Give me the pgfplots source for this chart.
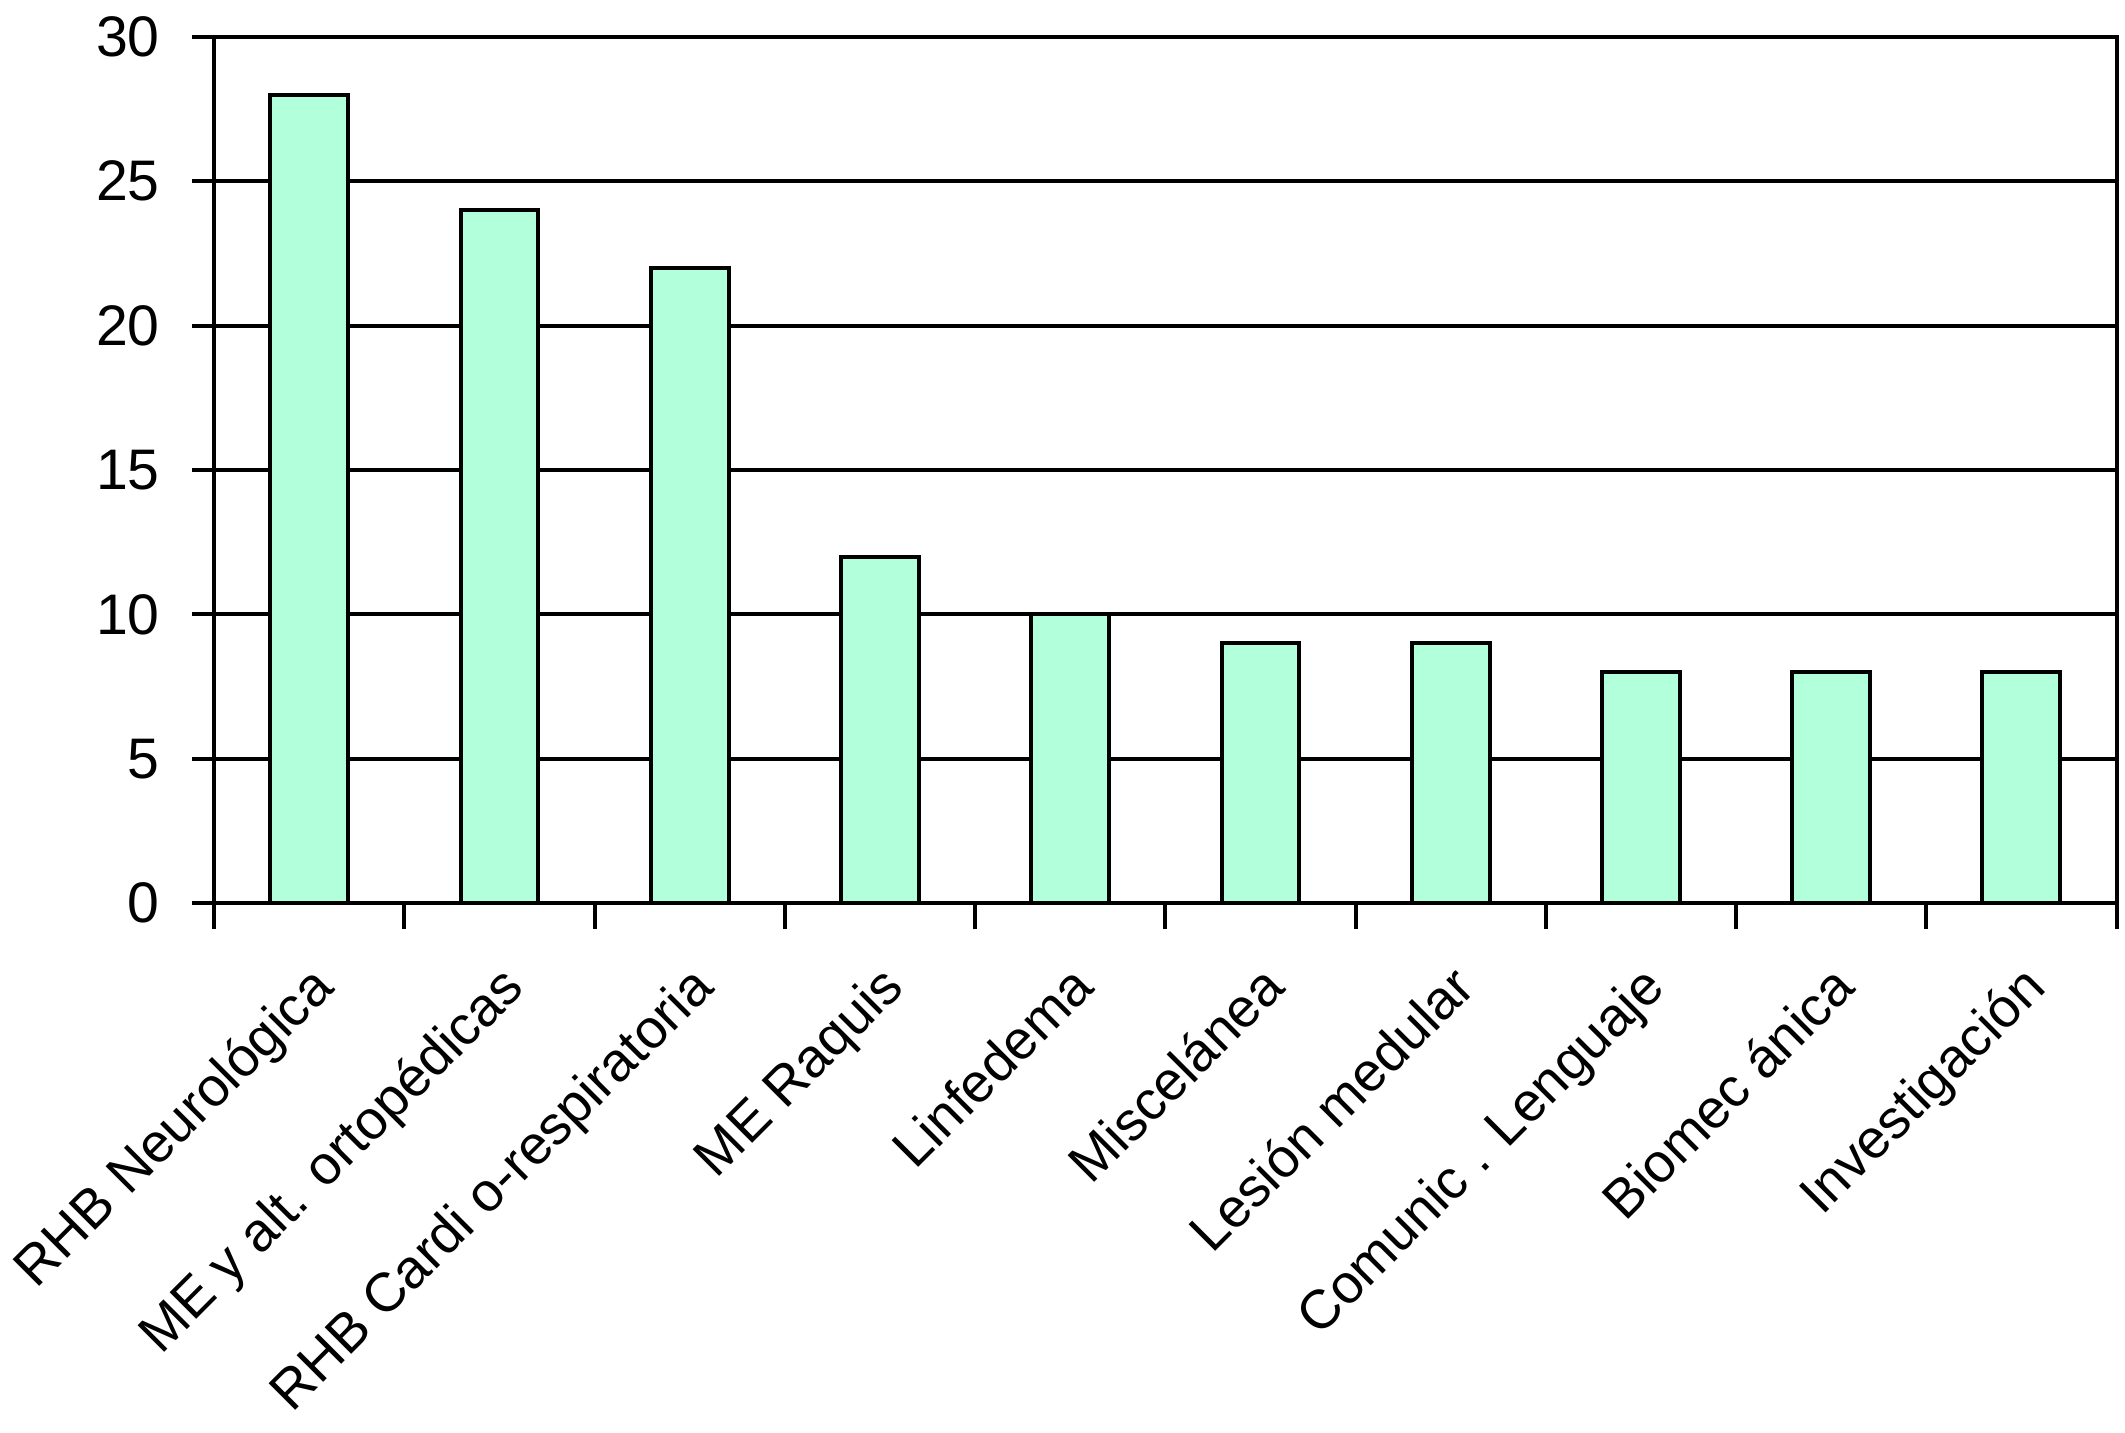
\documentclass[border={-3bp -2.5bp 1.3bp 0pt}]{standalone}
\usepackage{fontspec}
\setmainfont{Liberation Sans}
\usepackage{pgfplots}
\pgfplotsset{compat=1.18}
\definecolor{mint}{RGB}{178,255,220}

\begin{document}
\begin{tikzpicture}
\begin{axis}[
scale only axis,
width=381.2bp, height=173.6bp,
xmin=-0.5, xmax=9.5,
ymin=0, ymax=30,
axis line style={line width=0.8bp},
ybar, bar width=15.6bp,
xtick={0,...,9},
xticklabels={RHB Neurológica,ME y alt. ortopédicas,RHB Cardi o-respiratoria,ME Raquis,Linfedema,Miscelánea,Lesión medular,Comunic . Lenguaje,Biomec ánica,Investigación},
minor xtick={-0.5,0.5,...,9.5},
major x tick style={draw=none},
minor x tick style={black, line width=0.8bp},
minor tick length=5.2bp,
ytick={0,5,...,30},
major tick length=4.4bp,
y tick style={black, line width=0.8bp},
tick align=outside,
xtick pos=bottom, ytick pos=left,
ymajorgrids=true,
grid style={black, line width=0.8bp},
font=\fontsize{11}{13}\selectfont,
yticklabel style={font=\fontsize{11.5}{13}\selectfont, xshift=-3bp},
/pgf/number format/assume math mode=true,
xticklabel style={rotate=45, anchor=north east, xshift=-2bp, yshift=-1.4bp},
]
\addplot[draw=black, line width=0.8bp, fill=mint, bar shift=0pt] coordinates {
(0,28) (1,24) (2,22) (3,12) (4,10) (5,9) (6,9) (7,8) (8,8) (9,8)};
\end{axis}
\end{tikzpicture}
\end{document}
